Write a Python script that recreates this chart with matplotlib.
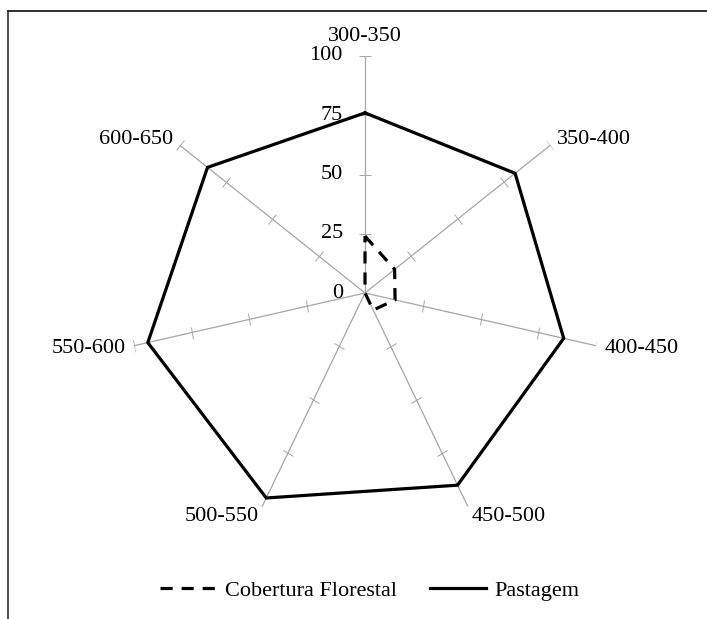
import numpy as np
import matplotlib.pyplot as plt
from matplotlib.markers import MarkerStyle
from matplotlib.transforms import Affine2D
from matplotlib.lines import Line2D

plt.rcParams['font.family'] = ['Liberation Serif', 'DejaVu Serif']

# dados
categorias = ["300-350", "350-400", "400-450", "450-500", "500-550", "550-600", "600-650"]
cobertura = [24, 16, 13, 8, 0, 0, 0]
pastagem = [76, 81, 86, 90, 96, 94, 85]
niveis = [0, 25, 50, 75, 100]

W, H = 707, 619
fig = plt.figure(figsize=(W / 100, H / 100), dpi=100)

# centro e raio em pixels
cx, cy, R = 365, 293, 237
ax = fig.add_axes([(cx - R) / W, (H - cy - R) / H, 2 * R / W, 2 * R / H], projection="polar")
ax.set_theta_zero_location("N")
ax.set_theta_direction(-1)
ax.set_ylim(0, 100)
ax.grid(False)
ax.spines["polar"].set_visible(False)
ax.set_xticks([])
ax.set_yticks([])
ax.patch.set_alpha(0)

n = len(categorias)
ang = np.arange(n) * 2 * np.pi / n
fs = 16

# eixos radiais com marcas
for i, a in enumerate(ang):
    ax.plot([a, a], [0, 100], color="#A6A6A6", lw=0.9, zorder=1)
    m = MarkerStyle("_", transform=Affine2D().rotate_deg(-np.degrees(a)))
    ax.plot([a] * 4, niveis[1:], ls="none", marker=m, markersize=8.5,
            markeredgewidth=0.7, color="#A6A6A6", zorder=1)
    s, c = np.sin(a), np.cos(a)
    ha = "left" if s > 0.1 else ("right" if s < -0.1 else "center")
    if c > 0.9:
        va, dy = "bottom", 7
    elif c < -0.5:
        va, dy = "top", 0
    elif c > 0:
        va, dy = "center", 4
    else:
        va, dy = "center", -2
    ax.annotate(categorias[i], (a, 100), xytext=(6 * s, dy), textcoords="offset points",
                ha=ha, va=va, fontsize=fs, annotation_clip=False)

for v in niveis:
    ax.annotate(str(v), (0, v), xytext=(-16, 0), textcoords="offset points",
                ha="right", va="center", fontsize=fs, annotation_clip=False)

a_c = np.append(ang, ang[0])
ax.plot(a_c, pastagem + pastagem[:1], color="black", lw=2.3, zorder=3,
        solid_joinstyle="miter", label="Pastagem")
ax.plot(a_c, cobertura + cobertura[:1], color="black", lw=2.3, zorder=3,
        dashes=(3.8, 2.8), label="Cobertura Florestal")

h, l = ax.get_legend_handles_labels()
fig.legend(h[::-1], l[::-1], loc="center", bbox_to_anchor=(370 / W, 1 - 591 / H), ncol=2,
           frameon=False, fontsize=fs, handlelength=2.5, handletextpad=0.4,
           columnspacing=1.5)

# moldura
fig.add_artist(Line2D([8 / W, 8 / W], [0, 1 - 11 / H], color="#404040", lw=1.3))
fig.add_artist(Line2D([8 / W, 1], [1 - 11 / H, 1 - 11 / H], color="#202020", lw=1.3))

fig.savefig("out.png", dpi=100)
